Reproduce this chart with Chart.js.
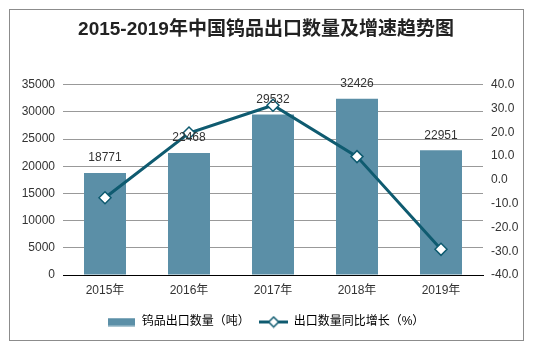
<!DOCTYPE html>
<html>
<head>
<meta charset="utf-8">
<script src="https://cdn.jsdelivr.net/npm/chart.js@4.4.1/dist/chart.umd.min.js"></script>
<style>
html,body{margin:0;padding:0;background:#fff;}
#wrap{position:relative;width:558px;height:350px;}
</style>
</head>
<body>
<div id="wrap"><canvas id="c" width="558" height="350"></canvas></div>
<script>
const categories = ['2015年', '2016年', '2017年', '2018年', '2019年'];
const exportVolume = [18771, 22468, 29532, 32426, 22951];
const growthRate = [-7.5, 19.7, 31.4, 9.8, -29.2];
const titleText = '2015-2019年中国钨品出口数量及增速趋势图';
const barLabel = '钨品出口数量（吨）';
const lineLabel = '出口数量同比增长（%）';

const BAR_COLOR = '#5B8FA7';
const LINE_COLOR = '#0F5B70';
const FONT = '"Liberation Sans", "Noto Sans CJK SC", Arial, sans-serif';

function makeBarSwatch() {
  const c = document.createElement('canvas');
  c.width = 27; c.height = 9;
  const x = c.getContext('2d');
  x.fillStyle = BAR_COLOR;
  x.fillRect(0, 0.5, 27, 8);
  return c;
}
function makeLineSwatch() {
  const c = document.createElement('canvas');
  c.width = 29; c.height = 13;
  const x = c.getContext('2d');
  x.strokeStyle = LINE_COLOR;
  x.lineWidth = 3;
  x.beginPath(); x.moveTo(0, 6.5); x.lineTo(29, 6.5); x.stroke();
  x.fillStyle = '#fff';
  x.lineWidth = 1.5;
  x.beginPath();
  x.moveTo(14.5, 1.5); x.lineTo(19.5, 6.5); x.lineTo(14.5, 11.5); x.lineTo(9.5, 6.5); x.closePath();
  x.fill(); x.stroke();
  return c;
}
const barSwatch = makeBarSwatch();
const lineSwatch = makeLineSwatch();

const framePlugin = {
  id: 'frame',
  afterDraw(chart) {
    const ctx = chart.ctx;
    ctx.save();
    ctx.strokeStyle = '#8c8c8c';
    ctx.lineWidth = 1;
    ctx.strokeRect(9.5, 9.5, 514, 331);
    ctx.restore();
  }
};

const dataLabelPlugin = {
  id: 'barValues',
  afterDatasetsDraw(chart) {
    const meta = chart.getDatasetMeta(1);
    const ctx = chart.ctx;
    ctx.save();
    ctx.font = '12px ' + FONT;
    ctx.fillStyle = '#333';
    ctx.textAlign = 'center';
    ctx.textBaseline = 'middle';
    meta.data.forEach((el, i) => {
      ctx.fillText(String(exportVolume[i]), el.x, el.y - 15);
    });
    ctx.restore();
  }
};

new Chart(document.getElementById('c'), {
  data: {
    labels: categories,
    datasets: [
      {
        type: 'line',
        label: lineLabel,
        data: growthRate,
        yAxisID: 'y1',
        borderColor: LINE_COLOR,
        borderWidth: 3,
        pointStyle: 'rectRot',
        pointRadius: 6,
        pointBackgroundColor: '#fff',
        pointBorderColor: LINE_COLOR,
        pointBorderWidth: 1.5,
        tension: 0,
        order: 0
      },
      {
        type: 'bar',
        label: barLabel,
        data: exportVolume,
        yAxisID: 'y',
        backgroundColor: BAR_COLOR,
        categoryPercentage: 1,
        barPercentage: 0.5,
        order: 1
      }
    ]
  },
  options: {
    responsive: false,
    animation: false,
    devicePixelRatio: 1,
    layout: { padding: { left: 0, right: 26, top: 0, bottom: 12 } },
    plugins: {
      title: {
        display: true,
        text: titleText,
        color: '#222',
        font: { family: FONT, size: 19, weight: 'bold' },
        padding: { top: 18, bottom: 44 }
      },
      legend: {
        position: 'bottom',
        labels: {
          usePointStyle: true,
          pointStyleWidth: 28,
          color: '#333',
          font: { family: FONT, size: 12 },
          padding: 10,
          generateLabels() {
            return [
              { text: barLabel, pointStyle: barSwatch, fillStyle: BAR_COLOR, strokeStyle: BAR_COLOR, lineWidth: 0, datasetIndex: 1, hidden: false },
              { text: lineLabel, pointStyle: lineSwatch, fillStyle: '#fff', strokeStyle: LINE_COLOR, lineWidth: 0, datasetIndex: 0, hidden: false }
            ];
          }
        }
      },
      tooltip: { enabled: false }
    },
    scales: {
      x: {
        grid: { display: false, drawTicks: false },
        border: { display: true, color: '#000', width: 1 },
        ticks: { color: '#333', font: { family: FONT, size: 12 }, padding: 8 },
        afterFit(s) { s.height = 31; }
      },
      y: {
        position: 'left',
        min: 0, max: 35000,
        ticks: {
          stepSize: 5000, color: '#333', font: { family: FONT, size: 12 }, padding: 8,
          callback: v => String(v)
        },
        grid: { color: '#999', drawTicks: false },
        border: { display: false },
        afterFit(s) { s.width = 63; }
      },
      y1: {
        position: 'right',
        min: -40, max: 40,
        ticks: {
          stepSize: 10, color: '#333', font: { family: FONT, size: 12 }, padding: 8,
          callback: v => Number(v).toFixed(1)
        },
        grid: { display: false, drawTicks: false },
        border: { display: false },
        afterFit(s) { s.width = 49; }
      }
    }
  },
  plugins: [framePlugin, dataLabelPlugin]
});
</script>
</body>
</html>
